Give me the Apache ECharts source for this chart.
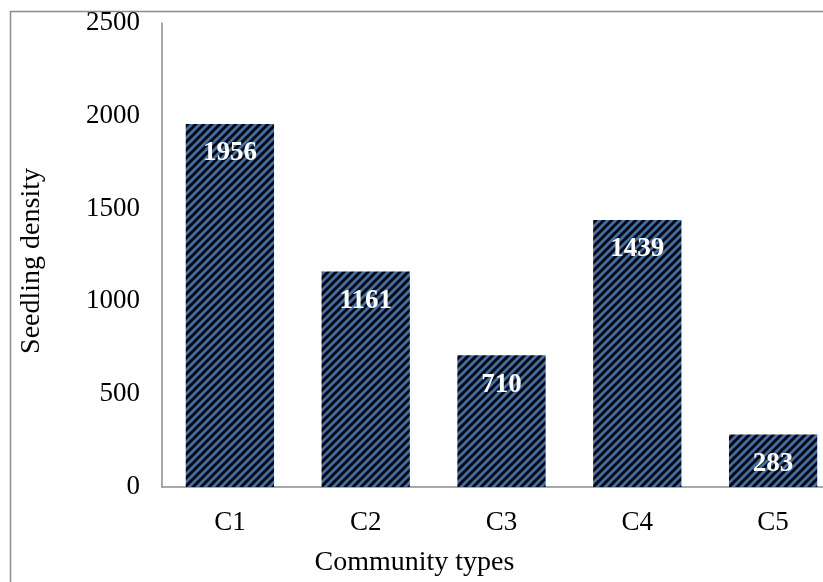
<!DOCTYPE html>
<html>
<head>
<meta charset="utf-8">
<script src="https://cdn.jsdelivr.net/npm/echarts@6/dist/echarts.min.js"></script>
<style>
html,body{margin:0;padding:0;background:#fff;overflow:hidden;}
#chart{width:860px;height:582px;}
</style>
</head>
<body>
<div id="chart"></div>
<script>
const categories = ['C1', 'C2', 'C3', 'C4', 'C5'];
const seedlingDensity = [1956, 1161, 710, 1439, 283];
const yTicks = [0, 500, 1000, 1500, 2000, 2500];

function makePattern() {
  const c = document.createElement('canvas');
  const s = 8;
  c.width = s; c.height = s;
  const ctx = c.getContext('2d');
  ctx.fillStyle = '#4170a8';
  ctx.fillRect(0, 0, s, s);
  ctx.strokeStyle = '#05070c';
  ctx.lineWidth = 3;
  for (let k = -1; k <= 1; k++) {
    ctx.beginPath();
    ctx.moveTo(k * s - 1, s + 1);
    ctx.lineTo(k * s + s + 1, -1);
    ctx.stroke();
  }
  return c;
}

const chart = echarts.init(document.getElementById('chart'), null, {renderer: 'canvas'});
const font = 'Liberation Serif';
chart.setOption({
  animation: false,
  backgroundColor: '#fff',
  graphic: [{
    type: 'rect',
    shape: {x: 10.5, y: 11.5, width: 1000, height: 1000},
    style: {fill: 'none', stroke: '#8c8c8c', lineWidth: 1.5},
    silent: true,
    z: 0
  }],
  grid: {left: 162, top: 23, width: 679, height: 464},
  xAxis: {
    type: 'category',
    data: categories,
    name: 'Community types',
    nameLocation: 'middle',
    nameGap: 62,
    nameTextStyle: {fontFamily: font, fontSize: 28, color: '#000', padding: [0, 174, 0, 0]},
    axisLine: {lineStyle: {color: '#8c8c8c', width: 1.5}},
    axisTick: {show: false},
    axisLabel: {fontFamily: font, fontSize: 27, color: '#000', margin: 22}
  },
  yAxis: {
    type: 'value',
    min: yTicks[0],
    max: yTicks[yTicks.length - 1],
    interval: yTicks[1] - yTicks[0],
    name: 'Seedling density',
    nameLocation: 'middle',
    nameGap: 116,
    nameTextStyle: {fontFamily: font, fontSize: 28, color: '#000', padding: [0, 12, 0, 0]},
    axisLine: {show: true, lineStyle: {color: '#8c8c8c', width: 1.5}},
    axisTick: {show: false},
    splitLine: {show: false},
    axisLabel: {fontFamily: font, fontSize: 27, color: '#000', margin: 22, formatter: v => String(v)}
  },
  series: [{
    type: 'bar',
    data: seedlingDensity,
    barCategoryGap: '35%',
    itemStyle: {color: {image: makePattern(), repeat: 'repeat'}},
    label: {
      show: true,
      position: 'insideTop',
      distance: 16,
      fontFamily: font,
      fontWeight: 'bold',
      fontSize: 27,
      color: '#fff'
    }
  }]
});
</script>
</body>
</html>
